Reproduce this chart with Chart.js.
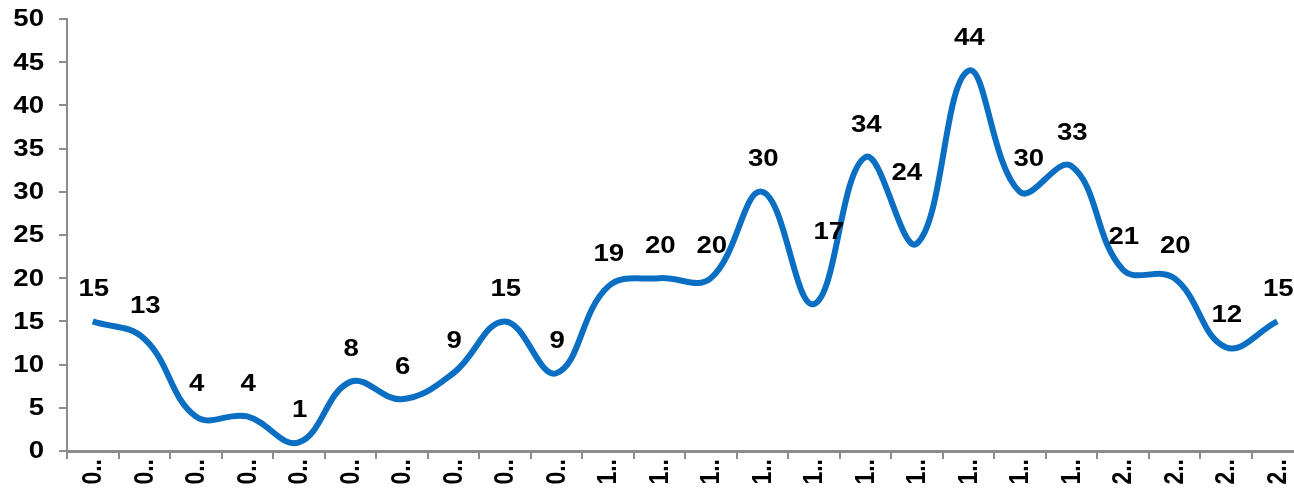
<!DOCTYPE html>
<html>
<head>
<meta charset="utf-8">
<script src="https://cdn.jsdelivr.net/npm/chart.js@4.4.1/dist/chart.umd.min.js"></script>
<style>
  html, body { margin: 0; padding: 0; background: #fff; overflow: hidden; }
  #chart { display: block; }
</style>
</head>
<body>
<canvas id="chart" width="1310" height="494"></canvas>
<script>
// hours of the day, shown truncated on the axis
const hours = ['00:00', '01:00', '02:00', '03:00', '04:00', '05:00', '06:00', '07:00',
  '08:00', '09:00', '10:00', '11:00', '12:00', '13:00', '14:00', '15:00',
  '16:00', '17:00', '18:00', '19:00', '20:00', '21:00', '22:00', '23:00'];
const counts = [15, 13, 4, 4, 1, 8, 6, 9, 15, 9, 19, 20, 20, 30, 17, 34, 24, 44, 30, 33, 21, 20, 12, 15];
const yTicks = [0, 5, 10, 15, 20, 25, 30, 35, 40, 45, 50];

const FONT = 'bold 23px Arial, "Liberation Sans", sans-serif';
const STRETCH = 1.2;   // the original text is drawn a bit wide
const AXIS_GREY = '#8c8c8c';

// a few labels were nudged aside in the original so they don't sit on the line
const labelNudge = { 14: [14, -39], 16: [-11, -38], 18: [8, 0] };

function shortLabel(s) {
    return s.charAt(0) + '..';
}

// draw text widened horizontally, anchored at (x, y) with the given alignment
function wideText(ctx, text, x, y, align) {
    const w = ctx.measureText(text).width * STRETCH;
    let left = x;
    if (align === 'center') left = x - w / 2;
    if (align === 'right') left = x - w;
    ctx.save();
    ctx.translate(left, y);
    ctx.scale(STRETCH, 1);
    ctx.textAlign = 'left';
    ctx.fillText(text, 0, 0);
    ctx.restore();
}

const textLayer = {
    id: 'textLayer',
    afterDraw(chart) {
        const ctx = chart.ctx;
        const xs = chart.scales.x;
        const ys = chart.scales.y;
        const meta = chart.getDatasetMeta(0);
        ctx.save();
        ctx.font = FONT;
        ctx.fillStyle = '#000';
        ctx.textBaseline = 'middle';

        // value labels above the line
        meta.data.forEach((pt, i) => {
            const n = labelNudge[i] || [0, 0];
            wideText(ctx, String(counts[i]), pt.x + 1 + n[0], pt.y - 32 + n[1], 'center');
        });

        // y tick labels
        yTicks.forEach(v => {
            wideText(ctx, String(v), ys.right - 23, ys.getPixelForValue(v) + 1, 'right');
        });

        // x labels read bottom-to-top, which the built-in rotation can't do
        hours.forEach((h, i) => {
            ctx.save();
            ctx.translate(xs.getPixelForValue(i) + 1, xs.top + 8);
            ctx.rotate(-Math.PI / 2);
            ctx.scale(1, STRETCH);
            ctx.textAlign = 'right';
            ctx.fillText(shortLabel(h), 0, 0);
            ctx.restore();
        });
        ctx.restore();
    }
};

new Chart(document.getElementById('chart'), {
    type: 'line',
    data: {
        labels: hours,
        datasets: [{
            data: counts,
            borderColor: '#0A6FC2',
            borderWidth: 6,
            pointRadius: 0,
            tension: 0.4,
            fill: false
        }]
    },
    options: {
        responsive: false,
        animation: false,
        layout: { padding: { top: 19, right: 7, left: 0, bottom: 0 } },
        plugins: {
            legend: { display: false },
            tooltip: { enabled: false }
        },
        scales: {
            x: {
                offset: true,
                grid: {
                    offset: true,
                    drawOnChartArea: false,
                    drawTicks: true,
                    tickLength: 8,
                    color: AXIS_GREY,
                    lineWidth: 2
                },
                border: { display: true, color: AXIS_GREY, width: 3 },
                ticks: { display: false },
                afterFit(scale) { scale.height = 43; }
            },
            y: {
                min: 0,
                max: 50,
                afterBuildTicks(scale) { scale.ticks = yTicks.map(v => ({ value: v })); },
                grid: {
                    drawOnChartArea: false,
                    drawTicks: true,
                    tickLength: 8,
                    color: AXIS_GREY,
                    lineWidth: 2
                },
                border: { display: true, color: AXIS_GREY, width: 2 },
                ticks: { display: false },
                afterFit(scale) { scale.width = 67; }
            }
        }
    },
    plugins: [textLayer]
});
</script>
</body>
</html>
